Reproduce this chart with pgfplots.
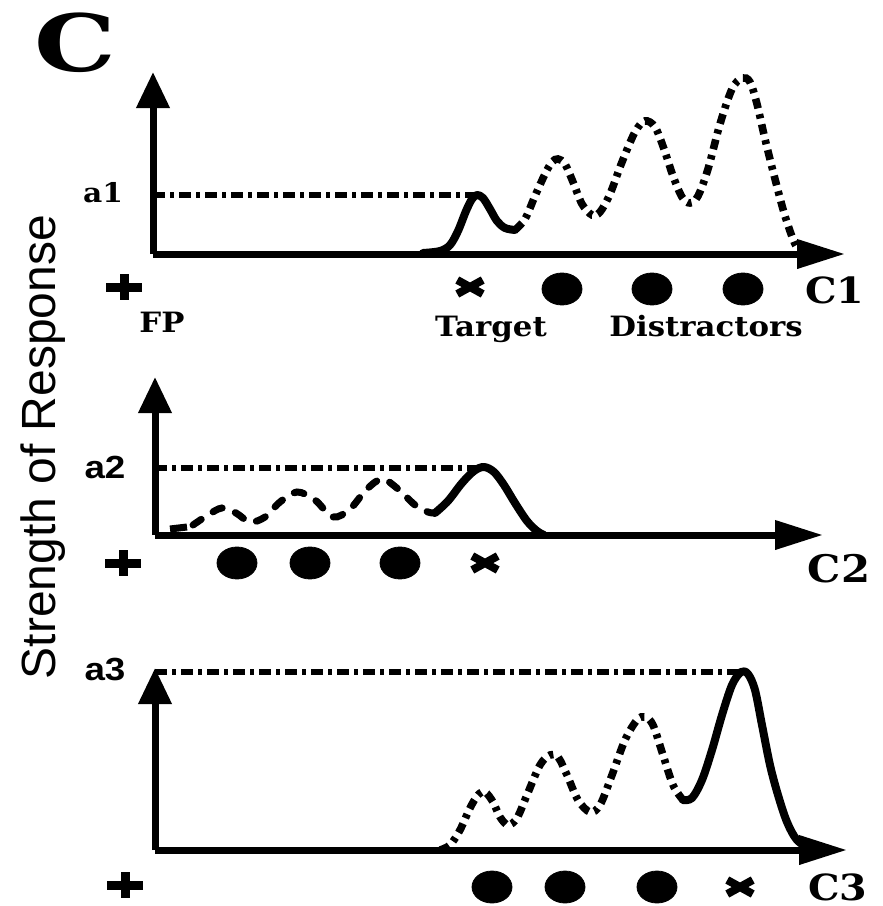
\documentclass[border=0pt]{standalone}
\usepackage{fontspec}
\setmainfont{DejaVu Serif}
\newfontfamily\labfont[FakeStretch=1.1]{DejaVu Serif}
\newfontfamily\bigfont[FakeStretch=1.3]{DejaVu Serif}
\newfontfamily\sansbold[FakeStretch=1.15]{Liberation Sans}
\newfontfamily\arialfont{Liberation Sans}
\usepackage{pgfplots}
\pgfplotsset{compat=1.18}
\usetikzlibrary{arrows.meta}

\pgfplotsset{
  panel/.style={
    scale only axis, clip=false,
    axis lines*=left,
    xtick=\empty, ytick=\empty,
    axis line style={line width=3.5pt},
    x axis line style={-{Triangle[length=24pt,width=14pt]}},
    y axis line style={-{Triangle[length=18pt,width=16pt]}},
    ymin=0, anchor=south west,
  },
  solidc/.style={black, line width=4pt, smooth, tension=0.55, line cap=round, line join=round, mark=none},
  dashc/.style={black, line width=3.8pt, smooth, tension=0.55, line cap=butt, mark=none,
     dash pattern=on 5pt off 3pt on 2.2pt off 3pt},
  dashb/.style={black, line width=3.5pt, smooth, tension=0.55, line cap=round, mark=none,
     dash pattern=on 5pt off 7pt},
  aline/.style={black, line width=3pt, mark=none, dash pattern=on 6pt off 2.5pt on 2pt off 2.5pt},
  dots/.style={only marks, mark=*, mark size=8pt, mark options={xscale=1.25, fill=black, draw=black}},
  xmk/.style={only marks, mark=x, mark size=9pt, mark options={yscale=0.55, line width=4pt, draw=black}},
  pmk/.style={only marks, mark=+, mark size=9pt, mark options={yscale=0.7, line width=4.5pt, draw=black}},
}

\begin{document}
\begin{tikzpicture}
\useasboundingbox (0,0) rectangle (441.5pt,-453pt);

% ---------------- Panel C1 ----------------
\begin{axis}[panel, xmin=153, xmax=845, ymax=182, width=346pt, height=91pt, at={(76.5pt,-127pt)}]
\addplot[aline] coordinates {(153,59) (475,59)};
\addplot[solidc] coordinates {(423,1) (440,3) (450,9) (458,23) (466,43) (472,55) (477,59) (483,56) (490,45) (497,33) (505,26) (515,24)};
\addplot[dashc] coordinates {(515,24) (525,35) (535,58) (545,80) (552,92) (558,95) (565,90) (573,72) (582,50) (592,39) (600,42) (610,60) (622,92) (635,122) (645,133) (655,127) (664,105) (673,78) (682,57) (690,51) (698,58) (708,85) (720,130) (732,165) (742,176) (750,172) (757,150) (765,115) (775,75) (785,38) (795,10) (802,0)};
\addplot[pmk] coordinates {(124,-33)};
\addplot[xmk] coordinates {(470,-33)};
\addplot[dots] coordinates {(562,-35) (652,-35) (743,-35)};
\end{axis}

% ---------------- Panel C2 ----------------
\begin{axis}[panel, xmin=155, xmax=823, ymax=158, width=334pt, height=79pt, at={(77.5pt,-267.5pt)}]
\addplot[aline] coordinates {(155,67) (483,67)};
\addplot[black, line width=3.5pt, mark=none] coordinates {(170,6) (187,8)};
\addplot[dashb] coordinates {(193,10) (208,20) (222,27) (236,22) (250,13) (265,18) (280,33) (297,43) (315,35) (333,18) (350,26) (366,45) (382,56) (398,46) (415,30) (428,23) (435,22)};
\addplot[solidc] coordinates {(435,22) (448,34) (462,52) (474,64) (484,68) (494,63) (504,50) (515,32) (527,14) (537,4) (544,0)};
\addplot[pmk] coordinates {(123,-28)};
\addplot[dots] coordinates {(237,-28) (310,-28) (400,-28)};
\addplot[xmk] coordinates {(485,-28)};
\end{axis}

% ---------------- Panel C3 ----------------
\begin{axis}[panel, xmin=155, xmax=847, ymax=182, width=346pt, height=91pt, at={(77.5pt,-425pt)}]
\addplot[aline] coordinates {(155,178) (743,178)};
\addplot[dashc] coordinates {(440,0) (450,5) (460,20) (470,42) (478,55) (485,58) (493,48) (500,33) (508,25) (517,32) (527,55) (540,85) (550,95) (558,93) (567,75) (578,50) (590,38) (600,45) (612,75) (625,110) (637,130) (645,133) (653,125) (663,95) (673,65) (683,50)};
\addplot[solidc] coordinates {(683,50) (692,52) (702,70) (712,100) (722,135) (732,165) (741,178) (748,176) (755,160) (762,125) (770,85) (778,55) (787,28) (797,10) (810,2) (825,0)};
\addplot[pmk] coordinates {(125,-35)};
\addplot[dots] coordinates {(492,-37) (565,-37) (657,-37)};
\addplot[xmk] coordinates {(740,-37)};
\end{axis}

% ---------------- Text ----------------
\begin{scope}[x=0.5pt, y=-0.5pt]
\node[inner sep=0pt, font=\bigfont\bfseries\fontsize{39.5pt}{40pt}\selectfont] at (75,43) {C};
\node[inner sep=0pt, rotate=90, anchor=base, font=\arialfont\fontsize{24pt}{26pt}\selectfont] at (55,447) {Strength of Response};
\node[inner sep=0pt, anchor=base, font=\labfont\bfseries\fontsize{13.5pt}{15pt}\selectfont] at (103,202) {a1};
\node[inner sep=0pt, anchor=base, font=\labfont\bfseries\fontsize{14pt}{16pt}\selectfont] at (162,332) {FP};
\node[inner sep=0pt, anchor=base, font=\labfont\bfseries\fontsize{14pt}{16pt}\selectfont] at (491,336) {Target};
\node[inner sep=0pt, anchor=base, font=\labfont\bfseries\fontsize{14pt}{16pt}\selectfont] at (706,336) {Distractors};
\node[inner sep=0pt, anchor=base, font=\labfont\bfseries\fontsize{18pt}{20pt}\selectfont] at (835,303) {C1};
\node[inner sep=0pt, anchor=base, font=\sansbold\bfseries\fontsize{16pt}{18pt}\selectfont] at (105,478) {a2};
\node[inner sep=0pt, anchor=base, font=\labfont\bfseries\fontsize{19pt}{21pt}\selectfont] at (839,582) {C2};
\node[inner sep=0pt, anchor=base, font=\sansbold\bfseries\fontsize{16pt}{18pt}\selectfont] at (105,680) {a3};
\node[inner sep=0pt, anchor=base, font=\labfont\bfseries\fontsize{18pt}{20pt}\selectfont] at (838,900) {C3};
\end{scope}
\end{tikzpicture}
\end{document}
